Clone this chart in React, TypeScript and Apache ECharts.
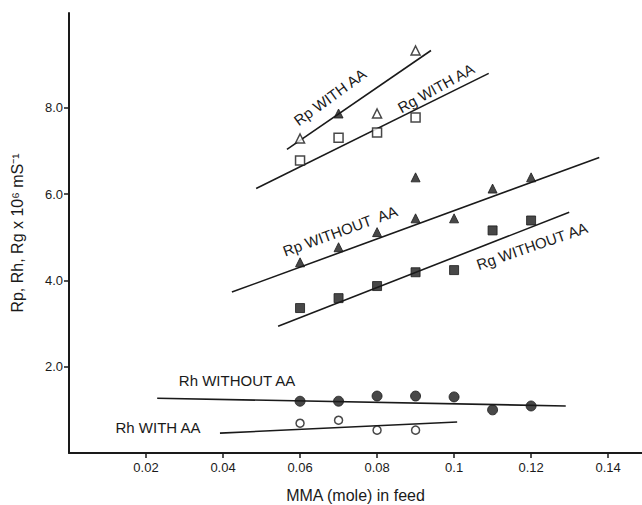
import React, { useEffect, useRef } from "react";
import * as echarts from "echarts";

// Measured data (MMA mole in feed vs R x 10^6 mS^-1)
const rpWithAA: [number, number][] = [[0.06, 7.29], [0.07, 7.87], [0.08, 7.87], [0.09, 9.33]];
const rgWithAA: [number, number][] = [[0.06, 6.78], [0.07, 7.31], [0.08, 7.43], [0.09, 7.78]];
const rpWithoutAA: [number, number][] = [[0.06, 4.42], [0.07, 4.77], [0.08, 5.12], [0.09, 5.44], [0.09, 6.39], [0.1, 5.44], [0.11, 6.13], [0.12, 6.39]];
const rgWithoutAA: [number, number][] = [[0.06, 3.36], [0.07, 3.59], [0.08, 3.87], [0.09, 4.19], [0.1, 4.24], [0.11, 5.16], [0.12, 5.39]];
const rhWithoutAA: [number, number][] = [[0.06, 1.2], [0.07, 1.2], [0.08, 1.32], [0.09, 1.32], [0.1, 1.3], [0.11, 1.0], [0.12, 1.09]];
const rhWithAA: [number, number][] = [[0.06, 0.69], [0.07, 0.76], [0.08, 0.53], [0.09, 0.53]];

// Fitted straight lines (end points)
const fitRpWithAA: [number, number][] = [[0.0566, 7.04], [0.094, 9.33]];
const fitRgWithAA: [number, number][] = [[0.0486, 6.13], [0.109, 8.8]];
const fitRpWithoutAA: [number, number][] = [[0.0423, 3.73], [0.1377, 6.85]];
const fitRgWithoutAA: [number, number][] = [[0.0543, 2.94], [0.1299, 5.58]];
const fitRhWithoutAA: [number, number][] = [[0.0229, 1.27], [0.129, 1.09]];
const fitRhWithAA: [number, number][] = [[0.0392, 0.46], [0.1008, 0.72]];

const xTicks = [0.02, 0.04, 0.06, 0.08, 0.1, 0.12, 0.14];
const yTicks = [2, 4, 6, 8];
const filledRpWithAA = [1];

const FONT = "'Liberation Sans', Arial, sans-serif";
const INK = "#1a1a1a";

export default function App() {
  const ref = useRef<HTMLDivElement>(null);
  useEffect(() => {
    document.body.style.margin = "0";
    if (!ref.current) return;
    const chart = echarts.init(ref.current, null, { renderer: "svg" });
    const openStyle = { color: "#fff", borderColor: INK, borderWidth: 1.5 };
    const fillStyle = { color: INK, borderColor: INK, borderWidth: 1 };
    const fit = (data: [number, number][]) => ({
      type: "line",
      data,
      showSymbol: false,
      symbol: "none",
      lineStyle: { color: INK, width: 1.6 },
      silent: true,
      z: 1,
    });
    const scatter = (data: any[], symbol: string, open: boolean, size = 9) => ({
      type: "scatter",
      data,
      symbol,
      symbolSize: size,
      itemStyle: open ? openStyle : fillStyle,
      z: 3,
    });
    const txt = (text: string, x: number, y: number, rot: number, size = 15) => ({
      type: "text",
      x,
      y,
      rotation: (rot * Math.PI) / 180,
      style: {
        text,
        fill: INK,
        font: `${size}px ${FONT}`,
        align: "center",
        verticalAlign: "middle",
      },
    });
    chart.setOption({
      animation: false,
      backgroundColor: "#fff",
      grid: { left: 69, right: 0, top: 13, bottom: 52, containLabel: false, outerBoundsMode: "none" },
      xAxis: {
        type: "value",
        min: 0,
        max: 0.1488,
        name: "MMA (mole) in feed",
        nameLocation: "middle",
        nameGap: 34,
        nameTextStyle: { fontFamily: FONT, fontSize: 16, color: INK },
        axisLine: { show: true, lineStyle: { color: INK, width: 2 } },
        axisTick: { show: true, length: 5, lineStyle: { color: INK, width: 1.5 }, customValues: xTicks },
        axisLabel: {
          customValues: xTicks,
          formatter: (v: number) => String(Number(v.toFixed(2))),
          fontFamily: FONT,
          fontSize: 13,
          color: INK,
          margin: 8,
        },
        splitLine: { show: false },
      },
      yAxis: {
        type: "value",
        min: 0,
        max: 10.2,
        name: "Rp, Rh, Rg x 10\u2076 mS\u207B\u00B9",
        nameLocation: "middle",
        nameGap: 44,
        nameRotate: 90,
        nameTextStyle: { fontFamily: FONT, fontSize: 16, color: INK },
        axisLine: { show: true, lineStyle: { color: INK, width: 2 } },
        axisTick: { show: true, length: 5, lineStyle: { color: INK, width: 1.5 }, customValues: yTicks },
        axisLabel: {
          customValues: yTicks,
          formatter: (v: number) => v.toFixed(1),
          fontFamily: FONT,
          fontSize: 13,
          color: INK,
          margin: 6,
        },
        splitLine: { show: false },
      },
      series: [
        fit(fitRpWithAA),
        fit(fitRgWithAA),
        fit(fitRpWithoutAA),
        fit(fitRgWithoutAA),
        fit(fitRhWithoutAA),
        fit(fitRhWithAA),
        scatter(
          rpWithAA.map((p, i) => (filledRpWithAA.includes(i) ? { value: p, itemStyle: fillStyle } : { value: p })),
          "triangle",
          true
        ),
        scatter(rgWithAA, "rect", true, 9),
        scatter(rpWithoutAA, "triangle", false),
        scatter(rgWithoutAA, "rect", false, 9),
        scatter(rhWithoutAA, "circle", false, 10),
        scatter(rhWithAA, "circle", true, 8),
      ],
      graphic: [
        txt("Rp WITH AA", 330, 97, 36),
        txt("Rg WITH AA", 436, 88, 29),
        txt("Rp WITHOUT  AA", 340, 231, 20),
        txt("Rg WITHOUT AA", 532, 246, 19),
        txt("Rh WITHOUT AA", 237, 380, 0),
        txt("Rh WITH AA", 158, 427, 0),
      ],
    });
    return () => chart.dispose();
  }, []);
  return <div ref={ref} style={{ width: 642, height: 505 }} />;
}
